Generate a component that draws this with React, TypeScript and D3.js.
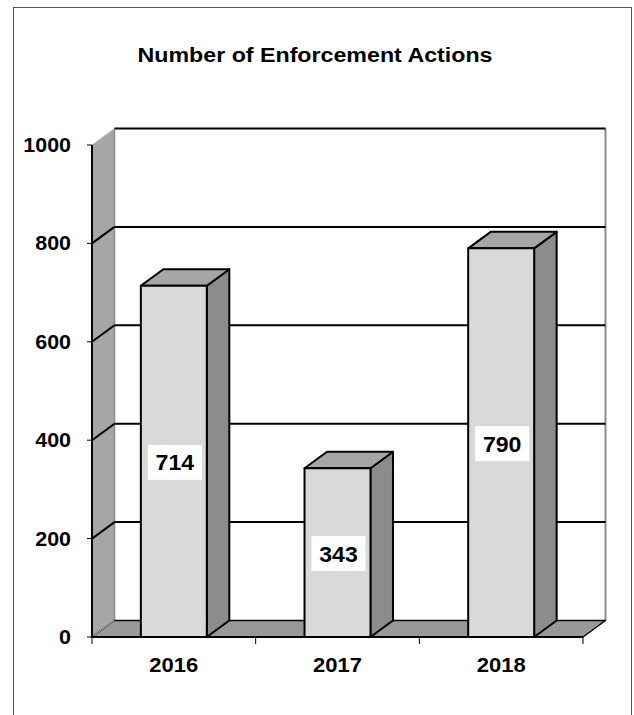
import React from "react";
import * as d3 from "d3";

const title = "Number of Enforcement Actions";
const categories = ["2016", "2017", "2018"];
const values = [714, 343, 790];
const yTicks = [0, 200, 400, 600, 800, 1000];

const W = 634;
const H = 715;
const DX = 22.5;
const DY = -16.5;
const FONT = "'Liberation Sans', Arial, sans-serif";

export default function App() {
  const y = d3.scaleLinear().domain([0, 1000]).range([637, 145]);
  const x = d3
    .scaleBand<string>()
    .domain(categories)
    .range([92, 583])
    .paddingInner(0.597)
    .paddingOuter(0.2985);
  const x0 = 92;
  const x1 = 583;
  const y0 = y(0);
  const yTop = y(1000);
  const step = (x1 - x0) / categories.length;
  const xTickPos = d3.range(categories.length + 1).map((i) => x0 + i * step);

  const pts = (arr: number[][]) => arr.map((p) => p.join(",")).join(" ");

  return (
    <svg
      width={W}
      height={H}
      style={{ position: "absolute", left: 0, top: 0, background: "#fff" }}
      fontFamily={FONT}
    >
      {/* outer frame */}
      <rect x={13.5} y={7.5} width={618} height={740} fill="none" stroke="#555" strokeWidth={1} />

      {/* title */}
      <text
        x={315}
        y={62}
        textAnchor="middle"
        fontWeight="bold"
        fontSize={19.5}
        textLength={355}
        lengthAdjust="spacingAndGlyphs"
      >
        {title}
      </text>

      {/* left wall */}
      <polygon
        points={pts([
          [x0, yTop],
          [x0 + DX, yTop + DY],
          [x0 + DX, y0 + DY],
          [x0, y0],
        ])}
        fill="#a6a6a6"
      />
      <line x1={x0 + DX} y1={yTop + DY} x2={x0 + DX} y2={y0 + DY} stroke="#8c8c8c" strokeWidth={1.5} />
      {/* back wall right edge */}
      <line x1={x1 + DX} y1={yTop + DY} x2={x1 + DX} y2={y0 + DY} stroke="#8c8c8c" strokeWidth={2} />

      {/* floor */}
      <polygon
        points={pts([
          [x0, y0],
          [x0 + DX, y0 + DY],
          [x1 + DX, y0 + DY],
          [x1, y0],
        ])}
        fill="#999999"
        stroke="#000"
        strokeWidth={1.5}
        strokeLinejoin="round"
      />
      <line x1={x0} y1={y0} x2={x0 + DX} y2={y0 + DY} stroke="#bdbdbd" strokeWidth={1} />

      {/* gridlines */}
      {yTicks
        .filter((t) => t > 0)
        .map((t) => (
          <g key={"g" + t}>
            <line
              x1={x0}
              y1={y(t)}
              x2={x0 + DX}
              y2={y(t) + DY}
              stroke={t === 1000 ? "#bdbdbd" : "#000"}
              strokeWidth={t === 1000 ? 1 : 2}
            />
            <line x1={x0 + DX} y1={y(t) + DY} x2={x1 + DX} y2={y(t) + DY} stroke="#000" strokeWidth={2} />
          </g>
        ))}

      {/* bars */}
      {categories.map((c, i) => {
        const bx = x(c)!;
        const bw = x.bandwidth();
        const by = y(values[i]);
        return (
          <g key={c} stroke="#000" strokeWidth={2} strokeLinejoin="round">
            <polygon
              points={pts([
                [bx + bw, by],
                [bx + bw + DX, by + DY],
                [bx + bw + DX, y0 + DY],
                [bx + bw, y0],
              ])}
              fill="#8c8c8c"
            />
            <polygon
              points={pts([
                [bx, by],
                [bx + DX, by + DY],
                [bx + bw + DX, by + DY],
                [bx + bw, by],
              ])}
              fill="#a6a6a6"
            />
            <rect x={bx} y={by} width={bw} height={y0 - by} fill="#d9d9d9" />
          </g>
        );
      })}

      {/* axes */}
      <line x1={x0} y1={yTop} x2={x0} y2={y0} stroke="#000" strokeWidth={2} />
      <line x1={x0} y1={y0} x2={x1} y2={y0} stroke="#000" strokeWidth={2} />
      {yTicks.map((t) => (
        <g key={"yt" + t}>
          <line x1={x0 - 5} y1={y(t)} x2={x0} y2={y(t)} stroke="#000" strokeWidth={1} />
          <text
            transform={`translate(71,${y(t) + 7}) scale(1.1,1)`}
            textAnchor="end"
            fontWeight="bold"
            fontSize={19.5}
          >
            {t}
          </text>
        </g>
      ))}
      {xTickPos.map((p, i) => (
        <line key={"xt" + i} x1={p} y1={y0} x2={p} y2={y0 + 7} stroke="#000" strokeWidth={1} />
      ))}
      {categories.map((c) => (
        <text
          key={"xl" + c}
          transform={`translate(${x(c)! + x.bandwidth() / 2},672) scale(1.1,1)`}
          textAnchor="middle"
          fontWeight="bold"
          fontSize={20}
        >
          {c}
        </text>
      ))}

      {/* data labels */}
      {categories.map((c, i) => {
        const cx = x(c)! + x.bandwidth() / 2 + 1;
        const cy = (y(values[i]) + y0) / 2 + 1;
        return (
          <g key={"dl" + c}>
            <rect x={cx - 27} y={cy - 17.5} width={54} height={35} fill="#fff" />
            <text
              transform={`translate(${cx},${cy + 8}) scale(1.05,1)`}
              textAnchor="middle"
              fontWeight="bold"
              fontSize={22}
            >
              {values[i]}
            </text>
          </g>
        );
      })}
    </svg>
  );
}
